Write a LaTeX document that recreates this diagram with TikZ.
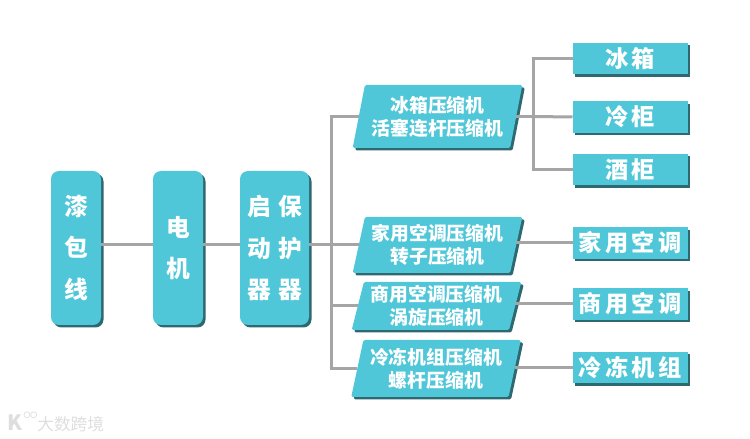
\documentclass[tikz,border=0pt]{standalone}
\usepackage{fontspec}
\usepackage{xcolor}
\usetikzlibrary{shapes.geometric, positioning, shadows}
\setmainfont{Noto Sans CJK SC}
\newfontfamily\zhwide[LetterSpace=15]{Noto Sans CJK SC}
\definecolor{boxcolor}{RGB}{79,199,216}
\definecolor{shadecolor}{RGB}{46,104,112}
\definecolor{linkcolor}{RGB}{165,165,165}
\definecolor{markcolor}{RGB}{222,222,222}

\begin{document}
\begin{tikzpicture}[
    shade box/.style={fill=boxcolor, text=white, font=\bfseries, inner sep=0pt, outer sep=0pt, align=center,
        drop shadow={shadow xshift=0.05cm, shadow yshift=-0.05cm, fill=shadecolor, opacity=1}},
    column/.style={shade box, rectangle, rounded corners=0.16cm, minimum height=3.08cm, font=\zhwide\bfseries\fontsize{13.5pt}{15pt}\selectfont},
    comp/.style={shade box, trapezium, trapezium stretches=true, trapezium left angle=75, trapezium right angle=105,
        rounded corners=0.03cm, minimum width=3.4cm, font=\bfseries\fontsize{10.7pt}{13.2pt}\selectfont},
    dest/.style={shade box, rectangle, minimum width=2.3cm, minimum height=0.63cm, font=\zhwide\bfseries\fontsize{13.2pt}{15pt}\selectfont},
    link/.style={draw=linkcolor, line width=0.06cm}
]
\useasboundingbox (0,0) rectangle (15,-8.78);

% Left chain
\node[column, minimum width=1.0cm] (wire) at (1.52,-4.96) {漆\\[0.3cm]包\\[0.3cm]线};
\node[column, minimum width=1.0cm, right=1.04cm of wire] (motor) {电\\[0.3cm]机};
\node[column, minimum width=1.38cm, right=0.74cm of motor] (starter) {启\hspace{0.15cm}保\\[0.3cm]动\hspace{0.15cm}护\\[0.3cm]器\hspace{0.15cm}器};

% Compressors
\node[comp, minimum height=1.26cm] (fridgecomp) at (8.75,-2.33) {冰箱压缩机\\活塞连杆压缩机};
\node[comp, minimum height=1.12cm] (homecomp) at (8.75,-4.90) {家用空调压缩机\\转子压缩机};
\node[comp, minimum height=0.96cm] (officecomp) at (8.73,-6.12) {商用空调压缩机\\涡旋压缩机};
\node[comp, minimum height=1.14cm] (coldcomp) at (8.72,-7.37) {冷冻机组压缩机\\螺杆压缩机};

% Products
\node[dest] (fridge) at (12.6,-1.17) {冰箱};
\node[dest, below=0.54cm of fridge] (freezer) {冷柜};
\node[dest, below=0.42cm of freezer] (wine) {酒柜};
\node[dest] (home) at (12.6,-4.86) {家用空调};
\node[dest] (office) at (12.6,-6.08) {商用空调};
\node[dest] (cold) at (12.6,-7.35) {冷冻机组};

% Connectors
\coordinate (bus) at (6.62,-4.9);
\coordinate (fork) at (10.66,-2.33);
\draw[link] (wire.east |- bus) -- (motor.west |- bus);
\draw[link] (motor.east |- bus) -- (starter.west |- bus);
\draw[link] (starter.east |- bus) -- (bus);
\draw[link] (fridgecomp.left side) -| (bus) |- (coldcomp.left side);
\draw[link] (bus) -- (homecomp.left side);
\draw[link] (bus |- officecomp.left side) -- (officecomp.left side);
\draw[link] (fridgecomp.right side) -- (fork);
\draw[link] (fridge.west) -| (fork) |- (wine.west);
\draw[link] (fork) -- (freezer.west);
\draw[link] (homecomp.right side |- home.west) -- (home.west);
\draw[link] (officecomp.right side |- office.west) -- (office.west);
\draw[link] (coldcomp.right side |- cold.west) -- (cold.west);

% Watermark
\node[text=markcolor, font=\fontsize{9.5pt}{9.5pt}\selectfont, anchor=west, inner sep=0pt] (markname) at (0.74,-8.48) {大数跨境};
\node[text=markcolor, font=\bfseries\fontsize{12pt}{12pt}\selectfont, anchor=west, inner sep=0pt] (markk) at (0.14,-8.46) {K};
\node[draw=markcolor, circle, minimum size=0.12cm, inner sep=0pt, right=0.02cm of markk.north east] (markdota) {};
\node[draw=markcolor, circle, minimum size=0.12cm, inner sep=0pt, right=0pt of markdota] (markdotb) {};

\end{tikzpicture}
\end{document}
